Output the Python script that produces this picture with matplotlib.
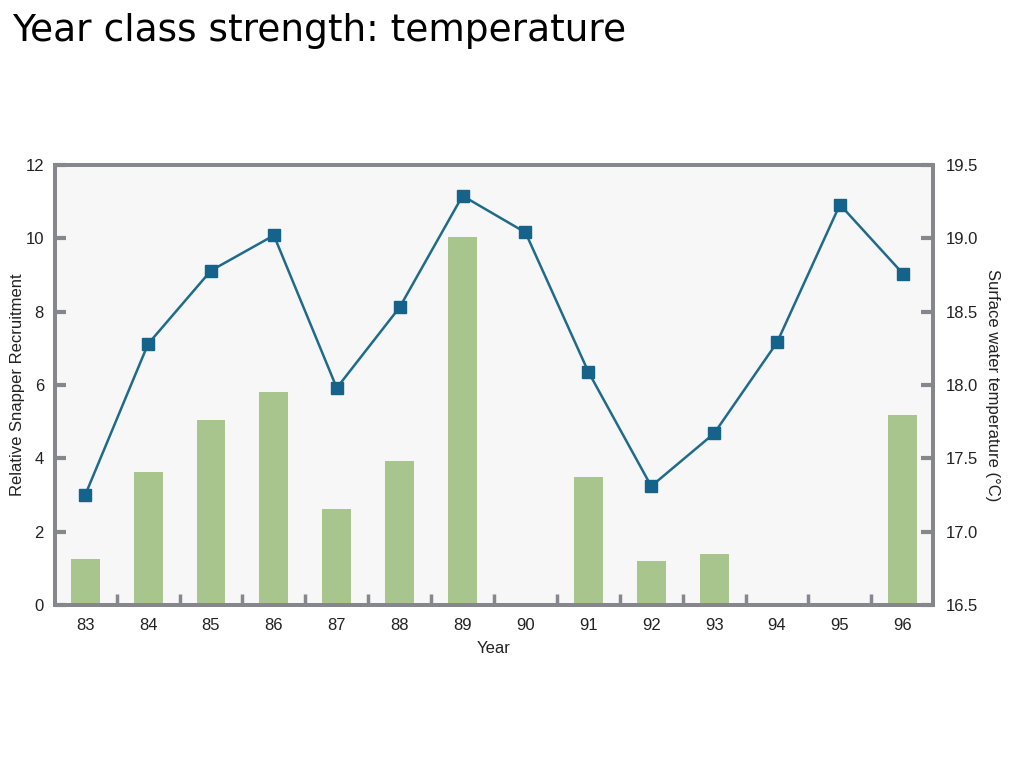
import matplotlib
matplotlib.use("Agg")
import matplotlib.pyplot as plt
import numpy as np
from matplotlib import font_manager as fm

years = ["83", "84", "85", "86", "87", "88", "89", "90", "91", "92", "93", "94", "95", "96"]
recruitment = [1.25, 3.63, 5.05, 5.81, 2.62, 3.93, 10.04, 0, 3.49, 1.2, 1.39, 0, 0, 5.18]
temperature = [17.25, 18.28, 18.78, 19.02, 17.98, 18.53, 19.29, 19.04, 18.09, 17.31, 17.67, 18.29, 19.23, 18.76]
left_ticks = [0, 2, 4, 6, 8, 10, 12]
right_ticks = [16.5, 17.0, 17.5, 18.0, 18.5, 19.0, 19.5]

names = {f.name for f in fm.fontManager.ttflist}
narrow = "Liberation Sans Narrow" if "Liberation Sans Narrow" in names else "Liberation Sans"

frame = "#86878d"
bar_c = "#a8c58e"
line_c = "#1f6b8c"
mark_c = "#15628a"

fig = plt.figure(figsize=(10.24, 7.68), dpi=100)
fig.patch.set_facecolor("white")
ax = fig.add_axes([55/1024, (768-605)/768, (933-55)/1024, (605-165)/768])
ax.set_facecolor("#f7f7f7")
x = np.arange(len(years))
ax.bar(x, recruitment, width=0.46, color=bar_c, zorder=2)
ax.set_xlim(-0.48, len(years) - 1 + 0.48)
ax.set_ylim(0, 12)
ax.set_yticks(left_ticks)
ax.set_yticklabels([str(t) for t in left_ticks])
ax.set_xticks(x)
ax.set_xticklabels(years)
ax.set_xticks(x[:-1] + 0.5, minor=True)
ax.tick_params(axis="x", which="major", length=0, pad=9)
ax.tick_params(axis="x", which="minor", direction="in", length=8, width=2.5, color=frame)
ax.tick_params(axis="y", direction="in", length=8, width=3, color=frame, pad=8)
for lab in ax.get_xticklabels() + ax.get_yticklabels():
    lab.set_fontfamily(narrow)
    lab.set_fontsize(12)
    lab.set_color("#222222")
for s in ax.spines.values():
    s.set_color(frame)
    s.set_linewidth(2.8)
ax.set_xlabel("Year", fontfamily=narrow, fontsize=12, color="#222222", labelpad=6)
ax.set_ylabel("Relative Snapper Recruitment", fontfamily=narrow, fontsize=12, color="#222222", labelpad=0)

ax2 = ax.twinx()
ax2.plot(x, temperature, color=line_c, lw=1.8, marker="s", markersize=8,
         markerfacecolor=mark_c, markeredgecolor=mark_c, zorder=3)
ax2.set_ylim(16.5, 19.5)
ax2.set_yticks(right_ticks)
ax2.set_yticklabels([f"{t:.1f}" for t in right_ticks])
ax2.tick_params(axis="y", direction="in", length=9, width=3, color=frame, pad=9)
for lab in ax2.get_yticklabels():
    lab.set_fontfamily(narrow)
    lab.set_fontsize(12)
    lab.set_color("#222222")
for s in ax2.spines.values():
    s.set_color(frame)
    s.set_linewidth(2.8)
ax2.set_ylabel("Surface water temperature (°C)", fontfamily=narrow, fontsize=12,
               color="#222222", rotation=270, labelpad=16)

fig.text(12/1024, 1 - 31/768, "Year class strength: temperature", fontsize=27,
         va="center", ha="left", color="black", fontfamily="DejaVu Sans")

fig.savefig("out.png", dpi=100)
